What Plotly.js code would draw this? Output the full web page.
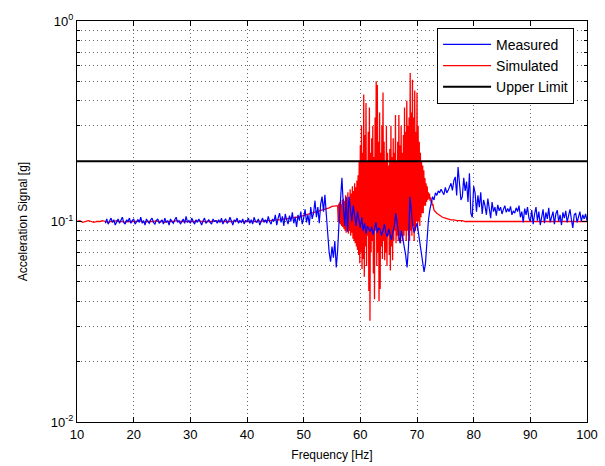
<!DOCTYPE html>
<html>
<head>
<meta charset="utf-8">
<script src="https://cdn.plot.ly/plotly-3.0.1.min.js"></script>
<style>html,body{margin:0;padding:0;background:#fff;}#chart{width:605px;height:466px;}</style>
</head>
<body>
<div id="chart"></div>
<script>
// Measured signal: 15 Hz to 100 Hz, 0.25 Hz spacing
const measuredStart = 15, measuredStep = 0.25;
const measured = [
0.098,0.103,0.097,0.101,0.104,0.099,0.102,0.096,0.1,0.103,0.098,0.101,0.105,0.099,0.097,0.102,0.1,0.104,0.098,0.101,
0.103,0.097,0.1,0.102,0.099,0.105,0.098,0.101,0.096,0.103,0.1,0.098,0.102,0.104,0.099,0.097,0.101,0.103,0.098,0.1,
0.102,0.097,0.104,0.099,0.101,0.096,0.103,0.1,0.098,0.102,0.105,0.099,0.101,0.097,0.1,0.103,0.098,0.106,0.099,0.101,
0.098,0.104,0.1,0.097,0.102,0.099,0.103,0.1,0.096,0.101,0.104,0.098,0.1,0.102,0.099,0.097,0.103,0.1,0.101,0.098,
0.102,0.099,0.104,0.097,0.101,0.103,0.098,0.1,0.105,0.099,0.096,0.102,0.1,0.104,0.098,0.101,0.099,0.103,0.097,0.101,
0.1,0.104,0.098,0.102,0.097,0.105,0.1,0.099,0.103,0.096,0.101,0.104,0.099,0.102,0.098,0.106,0.1,0.097,0.103,0.1,
0.108,0.096,0.104,0.11,0.099,0.106,0.095,0.109,0.102,0.097,0.107,0.1,
0.111,0.098,0.105,0.094,0.108,0.101,0.112,0.097,
0.104,0.115,0.099,0.108,0.096,0.118,0.103,0.11,
0.127,0.105,0.118,0.098,0.122,0.133,0.112,0.136,
0.108,0.085,0.07,0.063,0.075,0.066,0.08,0.059,
0.072,0.1,0.14,0.165,0.12,0.095,0.133,0.089,
0.133,0.114,0.1,0.12,0.108,0.095,0.112,0.1,
0.093,0.105,0.09,0.098,0.087,0.095,0.091,0.089,
0.094,0.086,0.092,0.099,0.088,0.093,0.091,0.085,
0.09,0.097,0.088,0.084,0.092,0.086,0.081,0.089,
0.095,0.11,0.098,0.085,0.078,0.09,0.082,0.075,
0.068,0.059,0.075,0.133,0.11,0.095,0.088,0.093,
0.098,0.088,0.078,0.07,0.063,0.056,0.062,0.084,
0.1,0.114,0.125,0.133,0.128,0.139,0.135,0.142,
0.139,0.145,0.14,0.136,0.148,0.139,0.143,0.15,
0.155,0.143,0.16,0.167,0.135,0.187,0.15,0.128,
0.133,0.165,0.142,0.158,0.125,0.174,0.11,0.105,
0.15,0.139,0.112,0.135,0.118,0.14,0.109,0.128,
0.12,0.108,0.13,0.115,0.104,0.125,0.112,0.118,
0.107,0.121,0.113,0.118,0.109,0.115,0.12,0.111,
0.116,0.112,0.119,0.108,0.113,0.11,0.117,0.112,
0.12,0.105,0.112,0.099,0.116,0.108,0.118,0.104,
0.1,0.114,0.097,0.109,0.118,0.101,0.112,0.096,
0.108,0.115,0.098,0.111,0.103,0.117,0.099,0.106,
0.112,0.097,0.109,0.114,0.1,0.108,0.096,0.111,
0.104,0.113,0.099,0.107,0.115,0.102,0.093,0.108,
0.11,0.099,0.106,0.112,0.1,0.108,0.103,0.109,
0.101
];

// Simulated signal in three frequency bands
const simLowStart = 10, simLowStep = 0.5;   // 10 .. 55.5 Hz
const simulatedLow = [
0.1,0.101,0.099,0.1,0.101,0.1,0.099,0.1,0.1,0.101,0.1,0.099,0.1,0.1,0.101,0.1,0.1,0.099,0.1,0.1,
0.1,0.1,0.101,0.1,0.099,0.1,0.1,0.1,0.101,0.1,0.1,0.099,0.1,0.1,0.1,0.101,0.1,0.1,0.1,0.1,
0.1,0.1,0.1,0.101,0.1,0.1,0.1,0.1,0.1,0.101,0.1,0.1,0.1,0.1,0.1,0.1,0.101,0.1,0.1,0.1,
0.1,0.1,0.1,0.1,0.101,0.1,0.101,0.101,0.101,0.101,0.102,0.102,0.102,0.103,0.103,0.104,0.104,0.105,0.105,0.106,
0.107,0.108,0.109,0.11,0.111,0.112,0.113,0.115,0.116,0.117,0.119,0.12
];
const simMidStart = 56, simMidStep = 0.1;    // 56 .. 72.9 Hz
const simulatedMid = [
0.12,0.1,0.123,0.098,0.125,0.097,0.122,0.095,0.128,0.094,
0.13,0.092,0.127,0.09,0.135,0.088,0.131,0.09,0.14,0.087,
0.128,0.09,0.145,0.085,0.138,0.088,0.15,0.082,0.142,0.08,
0.155,0.078,0.148,0.075,0.16,0.072,0.17,0.068,0.2,0.062,
0.24,0.07,0.3,0.058,0.22,0.065,0.43,0.053,0.27,0.075,
0.39,0.06,0.2,0.085,0.28,0.045,0.37,0.032,0.22,0.07,
0.26,0.08,0.3,0.055,0.21,0.041,0.33,0.09,0.5,0.06,
0.48,0.07,0.25,0.04,0.35,0.046,0.22,0.075,0.3,0.065,
0.44,0.08,0.25,0.064,0.2,0.07,0.3,0.06,0.22,0.085,
0.19,0.068,0.23,0.057,0.3,0.075,0.21,0.064,0.26,0.08,
0.22,0.09,0.34,0.078,0.2,0.085,0.25,0.08,0.34,0.085,
0.24,0.078,0.3,0.09,0.22,0.08,0.27,0.085,0.37,0.09,
0.28,0.08,0.4,0.09,0.3,0.085,0.33,0.08,0.55,0.09,
0.35,0.085,0.51,0.095,0.33,0.08,0.45,0.09,0.28,0.1,
0.44,0.09,0.3,0.1,0.25,0.095,0.22,0.105,0.2,0.11,
0.19,0.11,0.18,0.12,0.165,0.12,0.155,0.125,0.15,0.128,
0.14,0.13,0.138,0.127,0.132,0.124,0.127,0.12,0.122,0.118
];
const simHighStart = 73, simHighStep = 0.5;  // 73 .. 100 Hz
const simulatedHigh = [
0.114,0.11,0.107,0.105,0.104,0.103,0.102,0.102,0.101,0.101,
0.101,0.1,0.1,0.1,0.1,0.1,0.1,0.1,0.1,0.1,0.1,0.1,0.1,0.1,0.1,0.1,0.1,0.1,0.1,0.1,
0.1,0.1,0.1,0.1,0.1,0.1,0.1,0.1,0.1,0.1,0.1,0.1,0.1,0.1,0.1,0.1,0.1,0.1,0.1,0.1,
0.1,0.1,0.1,0.1,0.1
];

const upperLimitFreq = [10, 100];
const upperLimitValue = [0.2, 0.2];

const xTicks = [10,20,30,40,50,60,70,80,90,100];
const yTicks = [0.01, 0.1, 1];
const yTickLabels = ['10<sup>-2</sup>', '10<sup>-1</sup>', '10<sup>0</sup>'];
const yMinor = [0.02,0.03,0.04,0.05,0.06,0.07,0.08,0.09,0.2,0.3,0.4,0.5,0.6,0.7,0.8,0.9];

function grid(start, step, n) { const a = []; for (let i = 0; i < n; i++) a.push(+(start + i*step).toFixed(3)); return a; }

const measuredFreq = grid(measuredStart, measuredStep, measured.length);
const simFreq = grid(simLowStart, simLowStep, simulatedLow.length)
  .concat(grid(simMidStart, simMidStep, simulatedMid.length))
  .concat(grid(simHighStart, simHighStep, simulatedHigh.length));
const simulated = simulatedLow.concat(simulatedMid).concat(simulatedHigh);

const traces = [
  {x: simFreq, y: simulated, type: 'scatter', mode: 'lines', name: 'Simulated',
   line: {color: '#ff0000', width: 1.3}, legendrank: 2},
  {x: measuredFreq, y: measured, type: 'scatter', mode: 'lines', name: 'Measured',
   line: {color: '#0000ff', width: 1.2}, legendrank: 1},
  {x: upperLimitFreq, y: upperLimitValue, type: 'scatter', mode: 'lines', name: 'Upper Limit',
   line: {color: '#000000', width: 2}, legendrank: 3}
];

const gridCol = 'rgba(0,0,0,0.6)';
const dash = '1px,3px';
const layout = {
  width: 605, height: 466,
  margin: {l: 77, r: 18, t: 21, b: 44},
  paper_bgcolor: '#fff', plot_bgcolor: '#fff',
  font: {family: 'Liberation Sans, Arial, sans-serif', size: 12, color: '#000'},
  showlegend: true,
  legend: {x: 0.706, y: 0.983, xanchor: 'left', yanchor: 'top',
           bgcolor: '#fff', bordercolor: '#000', borderwidth: 1,
           font: {size: 14, family: 'Liberation Sans, Arial, sans-serif'},
           itemwidth: 48, tracegroupgap: 0},
  xaxis: {
    range: [10, 100], tickvals: xTicks, ticks: 'inside', ticklen: 5, tickcolor: '#000',
    showline: true, linecolor: '#000', linewidth: 1, mirror: 'ticks',
    showgrid: true, gridcolor: gridCol, griddash: dash, gridwidth: 1,
    zeroline: false,
    title: {text: 'Frequency [Hz]', font: {size: 12}, standoff: 10},
    tickfont: {size: 13}
  },
  yaxis: {
    type: 'log', range: [-2, 0], tickvals: yTicks, ticktext: yTickLabels,
    ticks: 'inside', ticklen: 5, tickcolor: '#000',
    showline: true, linecolor: '#000', linewidth: 1, mirror: 'ticks',
    showgrid: true, gridcolor: gridCol, griddash: dash, gridwidth: 1,
    zeroline: false,
    minor: {tickvals: yMinor, ticks: 'inside', ticklen: 3, tickcolor: '#000',
            showgrid: true, gridcolor: gridCol, griddash: dash, gridwidth: 1},
    title: {text: 'Acceleration Signal [g]', font: {size: 12}, standoff: 20},
    tickfont: {size: 13}
  }
};

Plotly.newPlot('chart', traces, layout, {staticPlot: true, displayModeBar: false});
</script>
</body>
</html>
